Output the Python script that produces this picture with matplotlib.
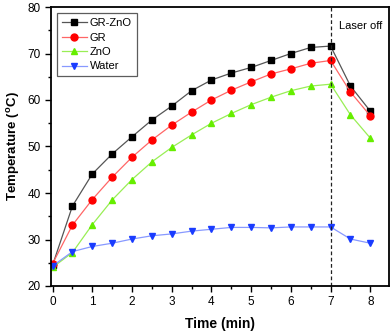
import matplotlib
matplotlib.use("Agg")
import matplotlib.pyplot as plt
from matplotlib.ticker import MultipleLocator

plt.rcParams['font.family'] = ['Liberation Sans', 'DejaVu Sans']
plt.rcParams['mathtext.fontset'] = 'custom'
plt.rcParams['mathtext.rm'] = 'Liberation Sans'
plt.rcParams['mathtext.bf'] = 'Liberation Sans:bold'

time = [0, 0.5, 1, 1.5, 2, 2.5, 3, 3.5, 4, 4.5, 5, 5.5, 6, 6.5, 7, 7.5, 8]
gr_zno = [24.5, 37.2, 44.1, 48.4, 52.1, 55.7, 58.7, 62.0, 64.3, 65.8, 67.0, 68.5, 70.0, 71.3, 71.6, 63.0, 57.6]
gr = [24.8, 33.1, 38.6, 43.4, 47.7, 51.4, 54.6, 57.4, 60.0, 62.1, 63.9, 65.6, 66.7, 67.9, 68.5, 61.7, 56.6]
zno = [24.0, 27.2, 33.2, 38.5, 42.9, 46.7, 49.8, 52.5, 55.0, 57.1, 59.0, 60.6, 62.0, 63.0, 63.4, 56.8, 51.8]
water = [24.3, 27.4, 28.5, 29.2, 30.1, 30.8, 31.2, 31.8, 32.2, 32.6, 32.6, 32.5, 32.7, 32.7, 32.7, 30.1, 29.2]

fig = plt.figure(figsize=(3.92, 3.33), dpi=100)
ax = fig.add_axes([51/392, 1 - 286/333, (389 - 51)/392, (286 - 7)/333])

ax.plot(time, gr_zno, color='#555555', lw=0.9, marker='s', ms=4.5, mfc='black', mec='black', label='GR-ZnO')
ax.plot(time, gr, color='#ff6666', lw=0.9, marker='o', ms=5, mfc='#ff0000', mec='#ff0000', label='GR')
ax.plot(time, zno, color='#99ee55', lw=0.9, marker='^', ms=5, mfc='#66ee00', mec='#66ee00', label='ZnO')
ax.plot(time, water, color='#8899ff', lw=0.9, marker='v', ms=5, mfc='#1a3cff', mec='#1a3cff', label='Water')

ax.axvline(7, color='#222222', lw=0.9, ls=(0, (3, 2)))
ax.text(7.2, 76, 'Laser off', fontsize=8, va='center', ha='left')

ax.set_xlim(-0.04, 8.47)
ax.set_ylim(20, 80)
ax.xaxis.set_major_locator(MultipleLocator(1))
ax.xaxis.set_minor_locator(MultipleLocator(0.5))
ax.yaxis.set_major_locator(MultipleLocator(10))
ax.yaxis.set_minor_locator(MultipleLocator(5))
ax.tick_params(which='both', direction='out', top=False, right=False, labelsize=8.5, width=1)
ax.tick_params(which='major', length=4)
ax.tick_params(which='minor', length=2.5)
for s in ax.spines.values():
    s.set_linewidth(1.3)

ax.set_xlabel('Time (min)', fontsize=10, fontweight='bold', labelpad=6)
ax.set_ylabel(r'Temperature ($\mathbf{^{o}}$C)', fontsize=9.5, fontweight='bold', labelpad=4)

leg = ax.legend(loc='upper left', fontsize=8, frameon=True, fancybox=False,
                edgecolor='#333333', handlelength=2.2, borderpad=0.45,
                labelspacing=0.4, handletextpad=0.3, borderaxespad=0.55)
leg.get_frame().set_linewidth(0.9)

fig.savefig('out.png', dpi=100)
